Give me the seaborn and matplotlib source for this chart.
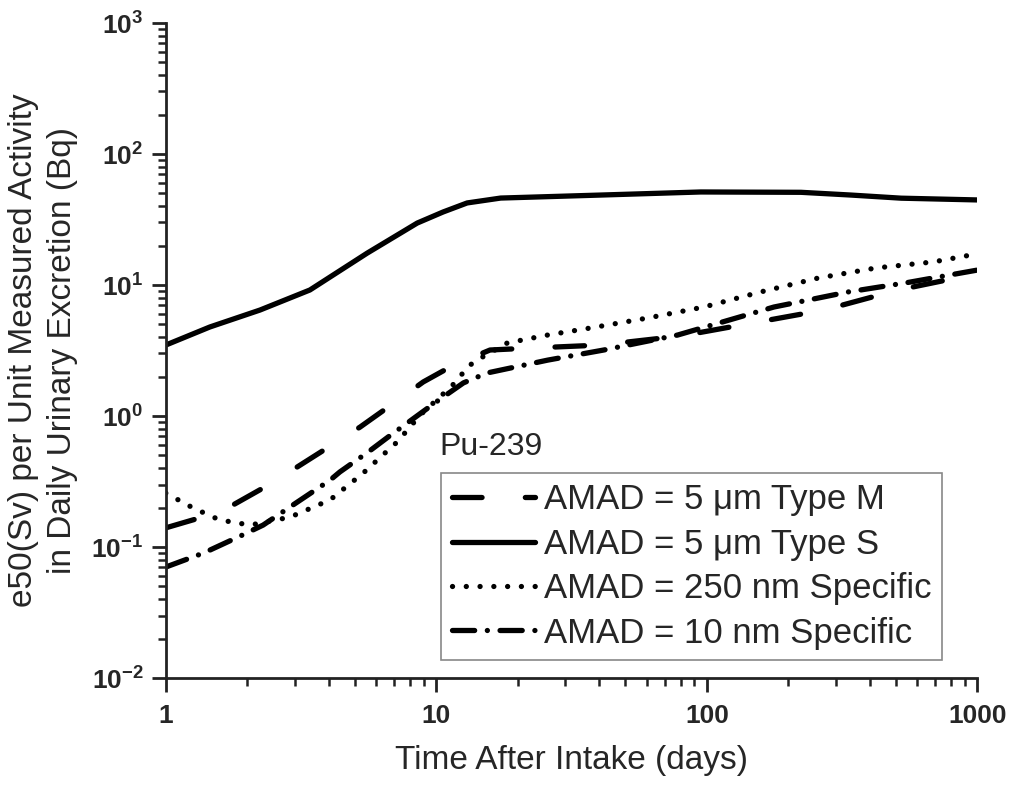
import numpy as np
import pandas as pd
import matplotlib
matplotlib.use('Agg')
import matplotlib.pyplot as plt
import seaborn as sns
from matplotlib.ticker import LogLocator, FuncFormatter, NullFormatter

# values (days, e50 per unit activity)
days_m = [1, 1.325, 1.77, 2.29, 3.06, 3.95, 5.23, 6.64, 8.95, 11.6, 15.8, 22.3, 40.5, 80, 271, 510, 1000]
dose_m = [0.140, 0.166, 0.209, 0.282, 0.408, 0.570, 0.824, 1.17, 1.82, 2.45, 3.19, 3.3, 3.48, 4.08, 6.44, 9.16, 12.2]

days_s = [1, 1.455, 2.23, 3.41, 5.55, 8.5, 10.6, 13.0, 17.3, 40.5, 95, 223, 341, 523, 1000]
dose_s = [3.48, 4.78, 6.44, 9.16, 17.5, 29.7, 36.1, 42.3, 46.1, 48.6, 51.3, 51.0, 48.6, 46.0, 44.6]

days_250 = [1, 1.26, 1.58, 2.05, 2.88, 4.05, 4.49, 5.37, 6.47, 7.17, 8.73, 11.0, 12.0, 13.0,
            14.6, 18.3, 25.8, 37.2, 60.5, 97.5, 158, 258, 423, 687, 1000]
dose_250 = [0.258, 0.199, 0.161, 0.147, 0.169, 0.229, 0.272, 0.367, 0.523, 0.634, 1.02, 1.58, 1.88, 2.37,
            2.77, 3.61, 4.15, 4.70, 5.60, 6.79, 8.85, 11.3, 13.5, 15.0, 17.3]

days_10 = [1, 1.38, 1.93, 2.29, 2.95, 4.05, 4.4, 5.6, 6.64, 10.2, 12.6, 15.4, 25.8, 41.6, 78, 177, 333, 546, 1000]
dose_10 = [0.0703, 0.090, 0.124, 0.147, 0.209, 0.324, 0.374, 0.531, 0.692, 1.32, 1.79, 2.13, 2.67, 3.19,
           4.15, 6.79, 8.85, 10.4, 13.0]

labels = ['AMAD = 5 μm Type M', 'AMAD = 5 μm Type S',
          'AMAD = 250 nm Specific', 'AMAD = 10 nm Specific']

sns.set_style('ticks')
plt.rcParams['font.family'] = ['Liberation Sans', 'DejaVu Sans']
plt.rcParams['mathtext.fontset'] = 'custom'
plt.rcParams['mathtext.rm'] = 'Liberation Sans'
plt.rcParams['mathtext.bf'] = 'Liberation Sans:bold'
plt.rcParams['axes.unicode_minus'] = False

fig = plt.figure(figsize=(10.17, 7.85), dpi=100)
ax = fig.add_axes([0.163, 0.1363, 0.798, 0.8344])

lw = 3.8
series = [
    (days_m, dose_m, (0, (5.6, 8.2))),
    (days_s, dose_s, '-'),
    (days_250, dose_250, (0, (0.01, 2.6))),
    (days_10, dose_10, (0, (4.2, 2.4, 0.01, 2.4))),
]
for (xs, ys, ls), lab in zip(series, labels):
    sns.lineplot(x=xs, y=ys, ax=ax, color='black', linewidth=lw, linestyle=ls,
                 label=lab, sort=False, estimator=None,
                 dash_capstyle='round', solid_capstyle='round', solid_joinstyle='round')

ax.set_xscale('log')
ax.set_yscale('log')
ax.set_xlim(1, 1000)
ax.set_ylim(1e-2, 1e3)

ax.xaxis.set_major_locator(LogLocator(base=10, numticks=10))
ax.xaxis.set_minor_locator(LogLocator(base=10, subs=np.arange(2, 10), numticks=20))
ax.xaxis.set_major_formatter(FuncFormatter(lambda v, p: '%d' % round(v)))
ax.xaxis.set_minor_formatter(NullFormatter())
ax.yaxis.set_major_locator(LogLocator(base=10, numticks=10))
ax.yaxis.set_minor_locator(LogLocator(base=10, subs=np.arange(2, 10), numticks=20))
ax.yaxis.set_major_formatter(FuncFormatter(lambda v, p: r'$\mathbf{10^{%d}}$' % round(np.log10(v))))
ax.yaxis.set_minor_formatter(NullFormatter())

ax.tick_params(which='major', direction='out', length=10, width=2, labelsize=19, pad=6, color='#222222')
ax.tick_params(which='minor', direction='out', length=6, width=1.8, color='#222222')
for t in ax.get_xticklabels():
    t.set_fontweight('bold')
ax.tick_params(axis='x', which='major', pad=9)

sns.despine(ax=ax)
for s in ['left', 'bottom']:
    ax.spines[s].set_linewidth(2)
    ax.spines[s].set_color('#222222')

ax.set_xlabel('Time After Intake (days)', fontsize=24, labelpad=12)
ax.set_ylabel('e50(Sv) per Unit Measured Activity\nin Daily Urinary Excretion (Bq)',
              fontsize=24, labelpad=10, linespacing=1.3)

ax.text(0.337, 0.34, 'Pu-239', transform=ax.transAxes, fontsize=23, ha='left', va='baseline')

leg = ax.legend(loc='lower right', bbox_to_anchor=(0.956, 0.0275), fontsize=25, frameon=True,
                fancybox=False, edgecolor='#888888', framealpha=1, borderaxespad=0,
                handlelength=2.4, handletextpad=0.25, labelspacing=0.33, borderpad=0.3)
leg.get_frame().set_linewidth(1.2)

fig.savefig('out.png', dpi=100)
